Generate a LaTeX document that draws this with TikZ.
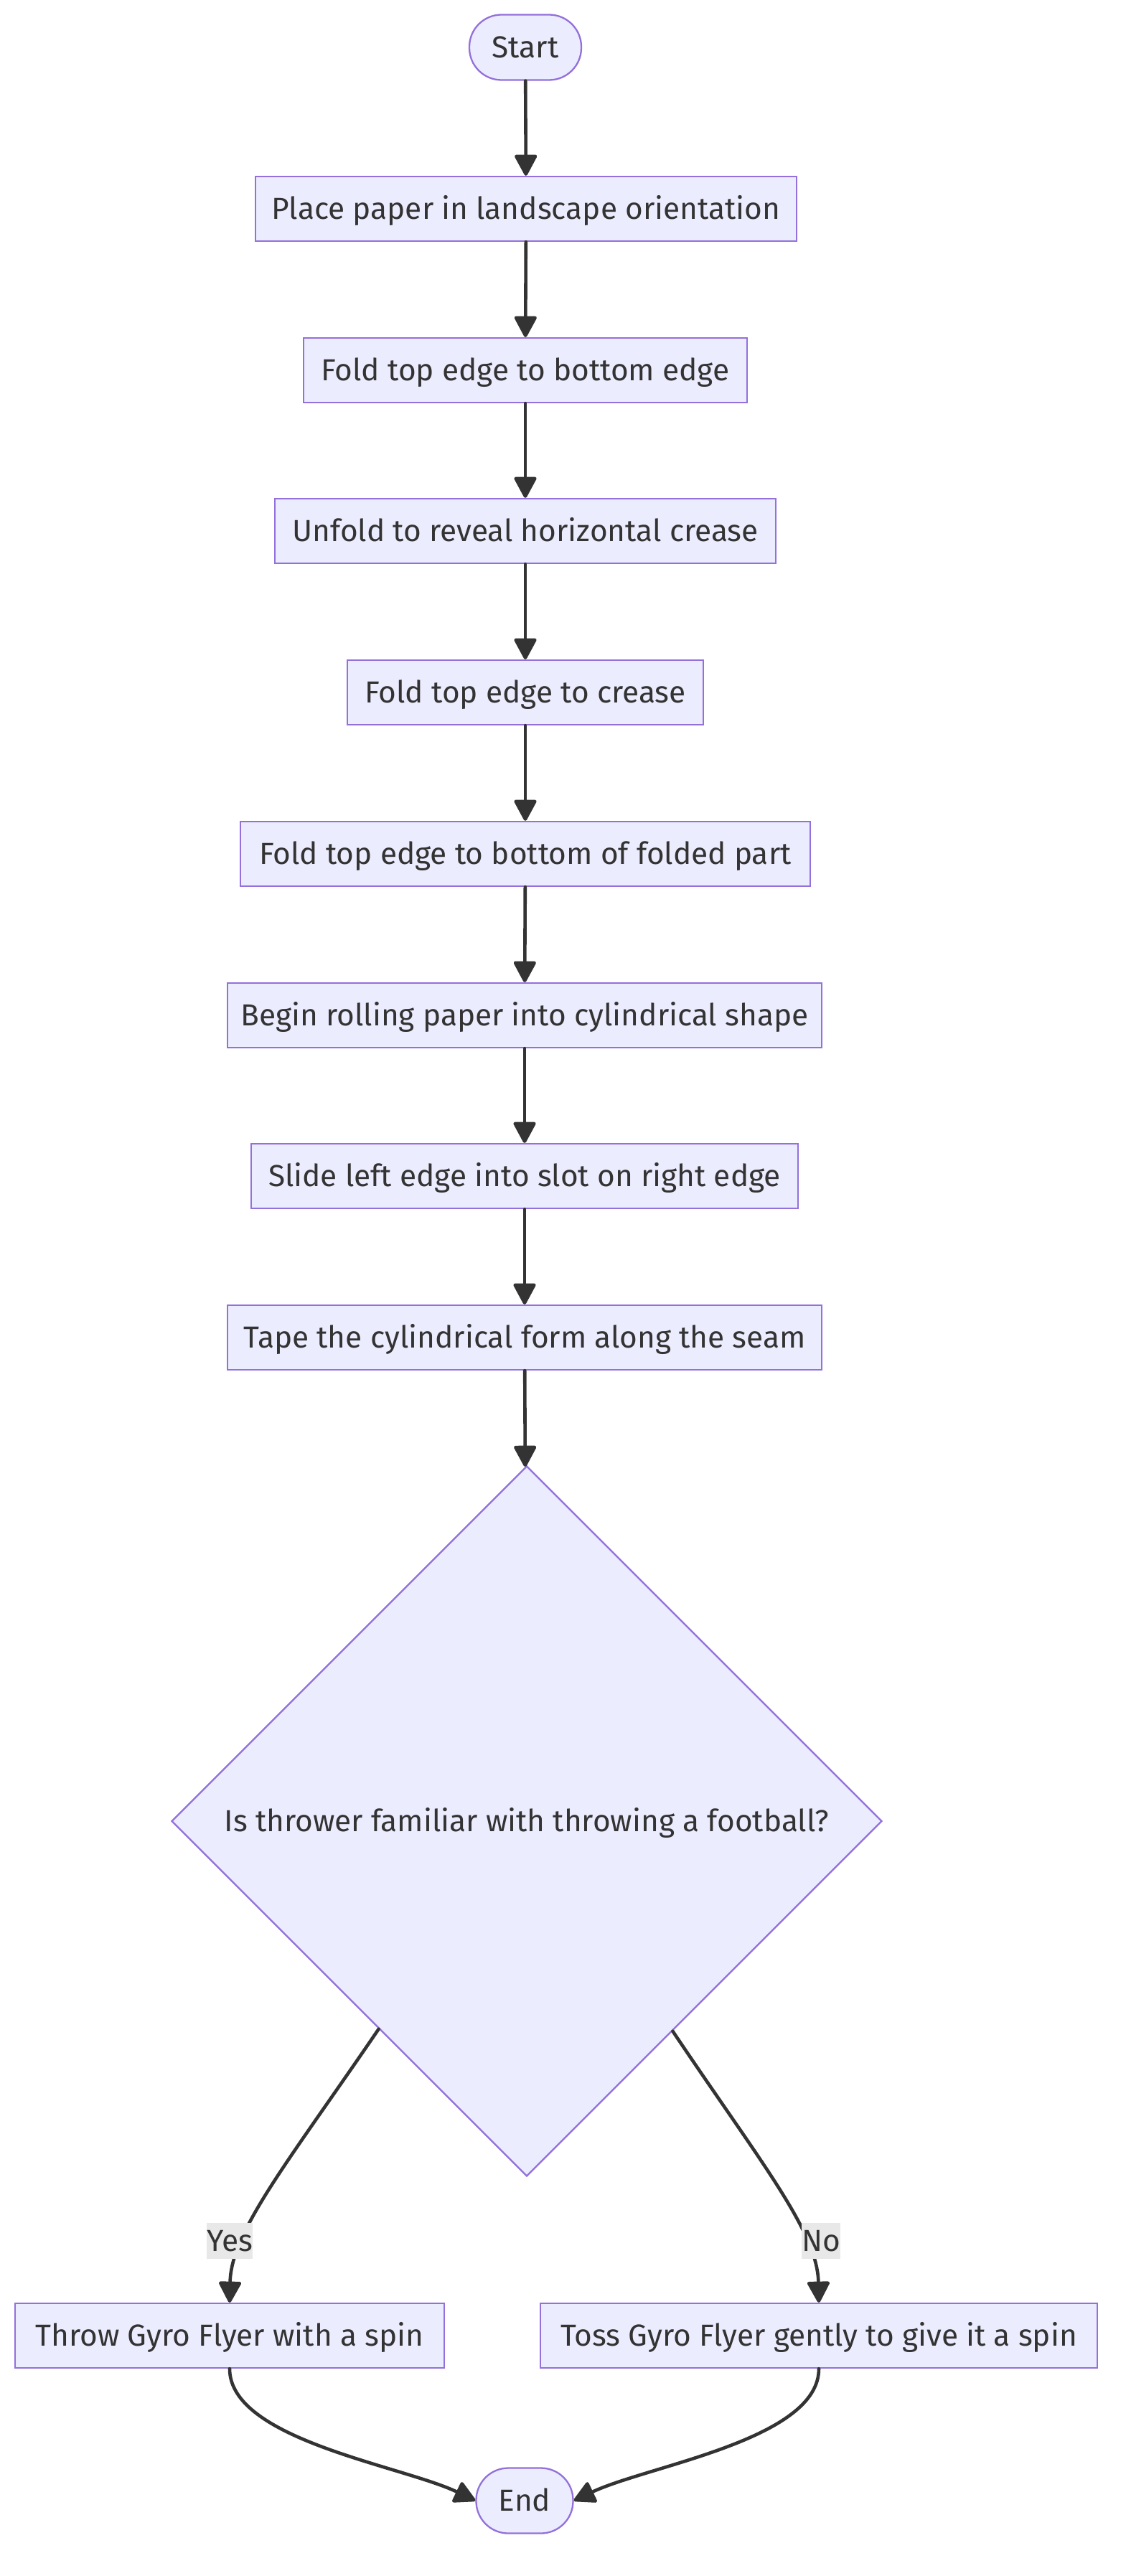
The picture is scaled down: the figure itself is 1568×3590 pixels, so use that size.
\documentclass[tikz,border=0pt]{standalone}
\usepackage{fontspec}
\setmainfont{Fira Sans}
\usetikzlibrary{shapes.geometric,arrows.meta,calc}
\definecolor{nodefill}{HTML}{ECECFF}
\definecolor{nodeline}{HTML}{9370DB}
\definecolor{ink}{HTML}{333333}
\definecolor{lblbg}{HTML}{E8E8E8}
\begin{document}
\begin{tikzpicture}[x=0.5pt,y=-0.5pt,
  base/.style={draw=nodeline, fill=nodefill, line width=1.15pt, text=ink,
    font=\fontsize{21.2}{26}\selectfont, inner sep=0pt, text height=14.6pt, text depth=0pt},
  box/.style={base, rectangle, minimum height=45pt},
  term/.style={base, rectangle, rounded corners=22.4pt, minimum height=45.5pt},
  dec/.style={base, diamond, aspect=1, minimum width=495pt, minimum height=495pt},
  lbl/.style={fill=lblbg, text=ink, font=\fontsize{21.2}{26}\selectfont,
    inner sep=0pt, minimum height=25pt, text height=14.6pt, text depth=0pt},
  conn/.style={draw=ink, line width=2.3pt, line cap=round,
    -{Triangle[length=16pt,width=16.5pt,round=false]}}]
\useasboundingbox (0,0) rectangle (1568,3590);

\node[term, minimum width=78pt]  (start)  at (732,66)   {Start};
\node[box, minimum width=377pt]  (place)  at (733,291)  {Place paper in landscape orientation};
\node[box, minimum width=309pt]  (fold1)  at (732,516)  {Fold top edge to bottom edge};
\node[box, minimum width=349pt]  (unfold) at (732,740)  {Unfold to reveal horizontal crease};
\node[box, minimum width=248pt]  (crease) at (732,965)  {Fold top edge to crease};
\node[box, minimum width=397pt]  (foldb)  at (732,1190) {Fold top edge to bottom of folded part};
\node[box, minimum width=414pt]  (roll)   at (731,1415) {Begin rolling paper into cylindrical shape};
\node[box, minimum width=381pt]  (slide)  at (731,1639) {Slide left edge into slot on right edge};
\node[box, minimum width=414pt]  (tape)   at (731,1864) {Tape the cylindrical form along the seam};
\node[dec]                       (dec)    at (734,2538) {Is thrower familiar with throwing a football?};
\node[box, minimum width=299pt]  (throw)  at (320,3255) {Throw Gyro Flyer with a spin};
\node[box, minimum width=388pt]  (toss)   at (1141,3255) {Toss Gyro Flyer gently to give it a spin};
\node[term, minimum width=67.5pt] (end)   at (731,3485) {End};

\draw[conn] (start) -- (place);
\draw[conn] (place) -- (fold1);
\draw[conn] (fold1) -- (unfold);
\draw[conn] (unfold) -- (crease);
\draw[conn] (crease) -- (foldb);
\draw[conn] (foldb) -- (roll);
\draw[conn] (roll) -- (slide);
\draw[conn] (slide) -- (tape);
\draw[conn] (tape) -- (dec);

\coordinate (dl) at ($(dec.west)!0.584!(dec.south)$);
\coordinate (dr) at ($(dec.east)!0.59!(dec.south)$);
\draw[conn] (dl) .. controls (400,3015) and (322,3110) .. (throw.north);
\draw[conn] (dr) .. controls (1061,3015) and (1139,3110) .. (toss.north);
\node[lbl, minimum width=30pt] (yes) at (320,3123) {Yes};
\node[lbl, minimum width=25.5pt] (no) at (1144,3123) {No};

\draw[conn] (throw.south) .. controls (320,3400) and (560,3436) .. (end.west);
\draw[conn] (toss.south) .. controls (1141,3400) and (903,3436) .. (end.east);
\end{tikzpicture}
\end{document}
